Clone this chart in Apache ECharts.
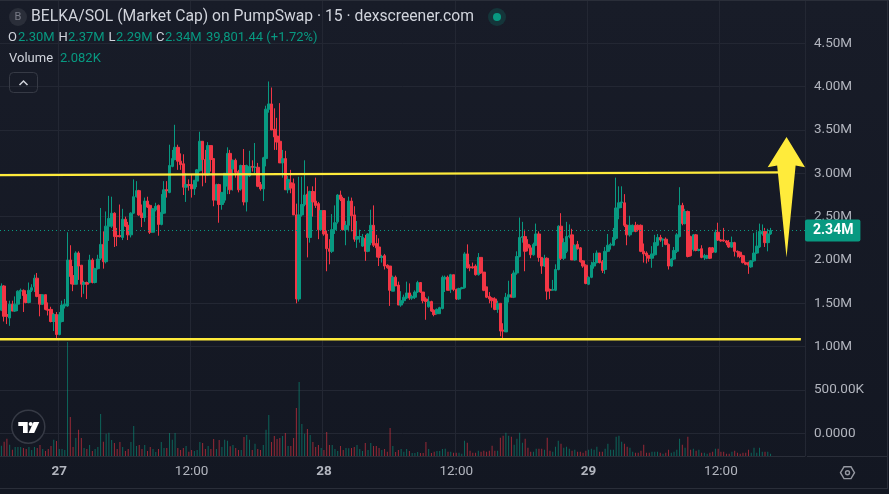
<!DOCTYPE html>
<html>
<head>
<meta charset="utf-8">
<style>html,body{margin:0;padding:0;background:#131722}#c{width:889px;height:494px}</style>
<script src="https://cdn.jsdelivr.net/npm/echarts@6/dist/echarts.min.js"></script>
</head>
<body>
<div id="c"></div>
<script>
const opens=[1.42,1.70,1.37,1.33,1.49,1.41,1.49,1.64,1.65,1.60,
1.51,1.65,1.69,1.79,1.60,1.49,1.60,1.43,1.43,1.29,
1.37,1.14,1.29,1.47,1.47,2.00,1.82,1.72,2.08,1.94,
1.72,1.74,1.74,2.00,1.74,1.90,2.02,2.18,1.98,2.39,
2.39,2.54,2.28,2.28,2.26,2.47,2.40,2.29,2.54,2.73,
2.80,2.54,2.49,2.68,2.63,2.32,2.58,2.63,2.41,2.54,
2.81,2.78,3.08,3.16,3.30,3.14,3.11,2.84,2.87,2.87,
2.82,2.91,3.03,3.37,3.16,2.98,3.32,3.17,2.69,2.87,
2.64,2.69,2.85,3.23,3.05,3.15,3.02,2.82,3.09,2.67,
2.97,3.08,3.07,3.07,2.87,2.82,3.17,3.74,3.80,3.51,
3.43,3.37,3.12,3.17,2.81,2.89,2.88,2.52,1.55,2.52,
2.64,2.76,2.26,2.79,2.68,2.65,2.35,2.57,2.30,2.13,
2.10,2.35,2.44,2.75,2.71,2.35,2.40,2.68,2.52,2.24,
2.27,2.16,2.25,2.10,2.20,2.40,2.19,2.15,2.03,2.05,
1.94,1.93,1.64,1.80,1.71,1.48,1.53,1.56,1.62,1.56,
1.57,1.63,1.74,1.63,1.55,1.46,1.52,1.42,1.38,1.38,
1.44,1.78,1.80,1.66,1.83,1.66,1.55,1.67,1.68,2.07,
1.92,1.92,1.93,1.83,2.03,1.86,1.69,1.58,1.56,1.55,
1.43,1.50,1.19,1.17,1.57,1.60,1.57,1.85,2.04,2.26,
2.27,2.18,2.14,2.06,2.17,2.30,2.03,1.93,2.02,1.66,
1.65,1.65,1.89,2.39,2.02,2.10,2.27,2.29,2.00,2.18,
2.14,1.99,1.94,1.72,1.80,1.93,1.97,2.08,1.98,1.89,
2.10,2.17,2.17,2.25,2.60,2.66,2.66,2.40,2.29,2.33,
2.40,2.40,2.40,2.10,2.08,2.05,2.02,2.06,2.17,2.26,
2.23,2.24,2.18,1.93,2.01,2.10,2.27,2.63,2.42,2.56,
2.27,2.12,2.29,2.11,2.13,2.03,2.02,2.14,2.14,2.09,
2.32,2.23,2.23,2.22,2.20,2.15,2.20,2.10,2.09,2.05,
1.97,1.97,1.92,1.99,2.08,2.15,2.30,2.33,2.20,2.30];
const closes=[1.70,1.35,1.35,1.49,1.41,1.49,1.64,1.65,1.59,1.51,
1.65,1.68,1.79,1.58,1.49,1.60,1.43,1.42,1.29,1.37,
1.14,1.37,1.48,1.49,2.00,1.81,1.72,2.08,1.93,1.72,
1.74,1.72,2.00,1.74,1.90,2.01,2.18,1.98,2.39,2.48,
2.54,2.27,2.27,2.27,2.47,2.39,2.29,2.54,2.73,2.80,
2.52,2.49,2.68,2.61,2.32,2.59,2.62,2.41,2.55,2.81,
2.80,3.09,3.17,3.30,3.14,3.10,2.84,2.87,2.86,2.82,
2.92,3.04,3.37,3.16,2.98,3.32,3.16,2.69,2.87,2.64,
2.78,3.00,3.23,2.81,3.15,3.01,2.81,3.09,2.67,3.09,
3.08,3.07,3.07,2.85,2.82,3.18,3.74,3.80,3.50,3.42,
3.36,3.12,3.17,2.81,2.93,2.83,2.52,1.55,2.52,2.64,
2.75,2.26,2.79,2.67,2.63,2.35,2.57,2.30,2.13,2.10,
2.35,2.43,2.75,2.70,2.35,2.40,2.68,2.51,2.24,2.27,
2.27,2.26,2.10,2.30,2.40,2.17,2.14,2.03,2.04,1.93,
1.91,1.65,1.80,1.70,1.48,1.53,1.57,1.62,1.56,1.58,
1.63,1.74,1.63,1.53,1.52,1.52,1.41,1.37,1.43,1.45,
1.80,1.80,1.65,1.83,1.66,1.55,1.67,1.68,2.07,1.91,
1.91,1.91,1.83,2.03,1.85,1.65,1.57,1.55,1.53,1.43,
1.50,1.18,1.18,1.57,1.60,1.57,1.85,2.04,2.26,2.27,
2.10,2.14,2.06,2.18,2.30,2.03,1.93,2.02,1.64,1.65,
1.66,1.89,2.39,2.02,2.20,2.27,2.28,2.00,2.17,2.13,
1.98,1.93,1.73,1.80,1.94,1.97,2.08,1.97,1.88,2.10,
2.17,2.18,2.26,2.60,2.66,2.67,2.40,2.29,2.40,2.40,
2.33,2.35,2.10,2.07,2.05,2.02,2.07,2.20,2.26,2.23,
2.24,2.18,1.93,2.01,2.11,2.29,2.63,2.42,2.56,2.04,
2.05,2.29,2.11,2.12,2.03,2.05,2.05,2.02,2.09,2.32,
2.23,2.22,2.22,2.20,2.15,2.20,2.10,2.09,2.04,1.97,
1.95,1.94,1.99,2.08,2.16,2.33,2.33,2.20,2.30,2.34];
const highs=[1.73,1.71,1.53,1.53,1.53,1.58,1.65,1.67,1.66,1.65,
1.74,1.72,1.83,1.85,1.60,1.60,1.60,1.51,1.46,1.39,
1.40,1.40,1.53,1.55,2.32,2.17,1.93,2.10,2.10,1.94,
1.76,1.75,2.06,2.02,1.91,2.06,2.60,2.33,2.56,2.74,
2.73,2.55,2.37,2.64,2.59,2.50,2.44,2.55,2.93,2.91,
2.81,2.64,2.72,2.73,2.64,2.60,2.66,2.64,2.76,2.91,
2.91,3.33,3.27,3.56,3.33,3.23,3.22,3.00,2.93,2.98,
2.92,3.05,3.48,3.37,3.27,3.36,3.32,3.17,2.88,2.88,
2.78,3.00,3.30,3.27,3.16,3.17,3.04,3.10,3.28,3.10,
3.26,3.15,3.35,3.12,2.90,3.19,3.78,4.06,3.99,3.75,
3.64,3.81,3.27,3.26,2.97,3.04,2.94,2.65,2.96,2.96,
3.15,2.85,2.80,2.85,2.95,2.67,2.57,2.57,2.34,2.24,
2.53,2.63,2.76,2.80,2.73,2.45,2.73,2.72,2.62,2.45,
2.35,2.30,2.29,2.31,2.58,2.63,2.29,2.25,2.06,2.07,
1.95,1.93,1.82,1.82,1.75,1.64,1.60,1.75,1.73,1.60,
1.65,1.76,1.74,1.63,1.57,1.58,1.53,1.43,1.44,1.46,
1.82,1.82,1.82,1.84,1.83,1.67,1.68,1.69,2.09,2.18,
1.95,1.97,1.95,2.08,2.03,1.86,1.69,1.63,1.57,1.57,
1.53,1.50,1.27,1.62,1.76,1.84,1.88,2.10,2.49,2.44,
2.35,2.24,2.17,2.20,2.42,2.33,2.03,2.06,2.03,1.67,
1.77,1.95,2.40,2.54,2.25,2.44,2.41,2.36,2.18,2.22,
2.15,2.00,1.95,1.81,1.98,2.08,2.11,2.08,2.00,2.15,
2.30,2.20,2.37,2.95,2.85,2.85,2.76,2.41,2.51,2.41,
2.44,2.41,2.41,2.19,2.10,2.06,2.16,2.29,2.30,2.29,
2.25,2.26,2.19,2.02,2.15,2.31,2.84,2.66,2.59,2.57,
2.28,2.30,2.30,2.13,2.17,2.07,2.06,2.15,2.15,2.35,
2.43,2.24,2.37,2.23,2.23,2.27,2.21,2.11,2.10,2.06,
1.98,1.98,2.00,2.31,2.33,2.42,2.41,2.37,2.36,2.37];
const lows=[1.41,1.29,1.26,1.24,1.41,1.40,1.41,1.55,1.40,1.50,
1.50,1.63,1.63,1.57,1.35,1.48,1.42,1.36,1.28,1.18,
1.10,1.13,1.28,1.44,1.46,1.72,1.64,1.72,1.77,1.57,
1.61,1.55,1.73,1.73,1.73,1.89,2.00,1.90,1.96,2.22,
2.37,2.15,2.16,2.26,2.23,2.38,2.23,2.26,2.53,2.72,
2.51,2.38,2.44,2.60,2.30,2.32,2.56,2.28,2.40,2.53,
2.72,2.77,3.07,3.15,3.04,3.04,2.75,2.67,2.80,2.72,
2.75,2.84,3.02,2.85,2.89,2.97,3.02,2.62,2.69,2.43,
2.58,2.66,2.76,2.76,2.80,2.95,2.78,2.80,2.63,2.56,
2.96,3.02,3.00,2.84,2.80,2.68,3.08,3.70,3.50,3.27,
3.27,3.12,2.95,2.81,2.77,2.77,2.52,1.50,1.52,2.50,
2.62,2.03,2.20,2.50,2.60,2.24,2.35,2.28,1.87,1.95,
2.08,2.30,2.42,2.68,2.34,2.17,2.33,2.33,2.21,2.14,
2.20,2.15,1.99,2.09,2.17,2.15,2.03,1.93,1.97,1.89,
1.90,1.47,1.64,1.70,1.48,1.46,1.50,1.55,1.54,1.54,
1.55,1.62,1.62,1.50,1.31,1.45,1.40,1.35,1.37,1.38,
1.43,1.63,1.65,1.62,1.64,1.54,1.54,1.66,1.67,1.90,
1.87,1.90,1.82,1.82,1.84,1.64,1.56,1.50,1.45,1.42,
1.39,1.12,1.08,1.17,1.51,1.57,1.56,1.83,2.03,2.20,
1.87,2.10,2.02,2.05,2.16,1.98,1.84,1.92,1.54,1.55,
1.65,1.64,1.88,2.00,2.00,2.08,2.25,2.00,1.99,2.12,
1.97,1.91,1.72,1.71,1.79,1.90,1.96,1.96,1.85,1.84,
2.09,2.12,2.16,2.23,2.47,2.60,2.38,2.17,2.27,2.32,
2.32,2.33,2.09,1.97,1.96,1.98,1.91,2.05,2.16,2.21,
2.15,2.17,1.89,1.92,2.00,2.08,2.26,2.40,2.41,2.03,
2.04,2.10,2.10,2.10,2.02,2.00,2.01,2.01,2.08,2.08,
2.22,2.21,2.21,2.17,2.14,2.14,2.04,2.03,2.02,1.96,
1.94,1.84,1.91,1.98,2.07,2.14,2.28,2.15,2.10,2.29];
const volumesK=[9.3,12.9,15.6,10.2,5.7,8.1,8.1,8.1,7.2,6.3,
8.1,5.4,8.1,7.2,9.9,6.3,4.5,6.3,9,14.7,
13.5,6.3,6.3,5.4,102.6,35.1,8.1,16.2,23.7,16.2,
7.2,6.3,9.9,4.5,6.3,8.1,37.8,12.9,20.1,21,
14.4,11.7,6.3,12.6,8.1,4.5,6.3,12.6,27,9,
9.9,6.3,9.9,4.5,8.1,6.3,3.6,6.3,12.6,7.2,
7.2,20.7,14.7,20.7,7.2,5.4,7.2,9,3.9,5.4,
4.5,5.4,12.6,11.7,6.3,9,6.3,15.3,6.3,14.4,
8.1,14.7,13.8,8.7,9.9,7.2,5.4,5.4,17.1,18.9,
14.7,5.4,11.1,6.3,5.4,9.9,23.7,36.9,12.6,18,
15.3,16.2,18,20.7,9,9,16.2,43.2,66.6,28.8,
20.1,24.3,18.9,12.6,8.1,9.9,7.2,5.4,21.6,9.9,
9.9,6.3,4.5,9,5.4,7.2,6.9,7.2,8.1,9.9,
6.3,4.5,11.7,5.4,11.7,9,9,7.2,5.4,6.3,
3.9,25.2,9,3.6,5.4,6.3,3.9,6.3,4.5,2.7,
2.7,3.6,2.7,2.7,12.6,6.3,2.7,3.9,4.5,4.5,
6.3,6.6,3.9,3.9,3,3,3,2.1,13.8,12,
4.8,3,3,4.8,3.9,4.8,3.9,4.8,9.3,4.8,
4.8,16.5,18.3,21,18.3,17.4,10.2,15.6,21,12,
15.6,7.5,3.9,3.9,6.6,6.6,6.6,5.7,16.5,4.8,
3.9,8.4,13.8,11.1,7.5,8.4,6.6,4.8,5.7,3.9,
3.9,3,4.8,5.7,6.6,5.7,8.4,3.9,3.9,6.6,
11.1,5.7,5.7,17.4,18.3,12.9,11.1,8.4,7.5,3.9,
3,3,4.8,10.2,3,3,3.9,3.9,3.9,3,
2.1,3,5.7,3,3.9,5.7,15.6,10.2,7.5,17.4,
5.7,6.6,4.8,5.7,3,3,2.1,3,3.9,6.6,
6.6,3.9,3.9,2.1,2.1,3.9,4.8,3,2.1,3,
3,5.7,3,7.5,3,7.5,3.9,3.9,3.9,2.082];

const tickIndexes=[21,69,117,165,213,261];
const tickLabels=['27','12:00','28','12:00','29','12:00'];
const upperLevelX=[-0.5,282.5], upperLevelY=[2.98,3.012];
const lowerLevelX=[-0.5,290], lowerLevelY=[1.085,1.085];
const arrowX=[284.8,291.5,288.1,284.8,281.4,277.95];
const arrowY=[3.42,3.07,3.09,2.03,3.09,3.07];
const lastPrice=2.34;

const UP='#089981',DOWN='#f23645',TXT='#b2b5be',GRID='#232733',LINE='#2a2e39',YEL='#ffeb3b';
const FONT='Roboto, sans-serif';
const SLOTS=292;
const categories=Array.from({length:SLOTS},(_,i)=>{const k=tickIndexes.indexOf(i);return k>=0?tickLabels[k]:'';});
const isTick=i=>tickIndexes.includes(i);
const candle=closes.map((c,i)=>[opens[i],c,lows[i],highs[i]]);
const vol=volumesK.map((v,i)=>({value:v,itemStyle:{color:closes[i]>=opens[i]?'rgba(8,153,129,.6)':'rgba(242,54,69,.6)'}}));
const fmtPrice=v=>v===0?'0.0000':v<1?(v*1000).toFixed(2)+'K':v.toFixed(2)+'M';

function txt(x,y,s,fill,size,extra){return {type:'text',x,y,silent:true,z:50,style:Object.assign({text:s,fill,font:(size||13)+'px '+FONT,textVerticalAlign:'middle'},extra||{})};}
const G0='#089981';
const graphics=[
 {type:'rect',silent:true,z:1,shape:{x:0,y:0,width:889,height:1},style:{fill:LINE}},
 {type:'rect',silent:true,z:1,shape:{x:0,y:488,width:887,height:1},style:{fill:LINE}},
 {type:'rect',silent:true,z:1,shape:{x:887,y:0,width:1,height:489},style:{fill:LINE}},
 {type:'rect',silent:true,z:1,shape:{x:807,y:456,width:80,height:1},style:{fill:LINE}},
 {type:'circle',silent:true,z:50,shape:{cx:18,cy:17,r:9},style:{fill:'#2a2e39'}},
 txt(14.5,17.5,'B','#787b86',11),
 txt(31,17,'BELKA/SOL (Market Cap) on PumpSwap · 15 · dexscreener.com','#d1d4dc',15.7),
 {type:'circle',silent:true,z:50,shape:{cx:497,cy:17,r:9},style:{fill:'rgba(8,153,129,.2)'}},
 {type:'circle',silent:true,z:50,shape:{cx:497,cy:17,r:4},style:{fill:G0}},
 txt(8,37.5,'O','#d1d4dc'),txt(18,37.5,'2.30M',G0),
 txt(58.5,37.5,'H','#d1d4dc'),txt(68,37.5,'2.37M',G0),
 txt(108.5,37.5,'L','#d1d4dc'),txt(116,37.5,'2.29M',G0),
 txt(156,37.5,'C','#d1d4dc'),txt(165,37.5,'2.34M',G0),
 txt(206,37.5,'39,801.44 (+1.72%)',G0),
 txt(9,58.5,'Volume','#d1d4dc'),txt(60,58.5,'2.082K',G0),
 {type:'rect',silent:true,z:50,shape:{x:9.5,y:72.5,width:28,height:20,r:4},style:{fill:'none',stroke:'#363a45',lineWidth:1}},
 {type:'polyline',silent:true,z:50,shape:{points:[[19.5,85],[23.5,81],[27.5,85]]},style:{fill:'none',stroke:'#d1d4dc',lineWidth:1.5}},
 {type:'circle',silent:true,z:50,shape:{cx:28.3,cy:426.7,r:16.5},style:{fill:'#131722',stroke:'#363a45',lineWidth:1.5}},
 {type:'polygon',silent:true,z:51,shape:{points:[[18.3,422],[27.7,422],[27.7,433],[23,433],[23,426],[18.3,426]]},style:{fill:'#fff'}},
 {type:'circle',silent:true,z:51,shape:{cx:30.7,cy:424,r:2},style:{fill:'#fff'}},
 {type:'polygon',silent:true,z:51,shape:{points:[[33.6,422],[39.3,422],[34.2,433],[28.6,433]]},style:{fill:'#fff'}},
 {type:'polygon',silent:true,z:50,shape:{points:[[840.5,472.7],[844,466.8],[851,466.8],[854.5,472.7],[851,478.6],[844,478.6]]},style:{fill:'none',stroke:'#9598a1',lineWidth:1.4}},
 {type:'circle',silent:true,z:50,shape:{cx:847.5,cy:472.7,r:2},style:{fill:'none',stroke:'#9598a1',lineWidth:1.4}}
];

const option={
 animation:false,
 backgroundColor:{type:'linear',x:0,y:0,x2:0,y2:1,colorStops:[{offset:0,color:'#181c28'},{offset:1,color:'#131722'}]},
 textStyle:{fontFamily:FONT},
 grid:[
  {left:0,top:-2.4,width:805,height:435.7},
  {left:0,top:0,width:805,height:456}
 ],
 xAxis:[
  {type:'category',gridIndex:0,data:categories,show:false},
  {type:'category',gridIndex:1,data:categories,
   axisLine:{lineStyle:{color:LINE}},
   axisTick:{show:false,alignWithLabel:true,interval:(i)=>isTick(i)},
   axisLabel:{interval:(i)=>isTick(i),margin:9,color:TXT,fontFamily:FONT,fontSize:13.5,
     formatter:v=>/^\d+$/.test(v)?'{d|'+v+'}':v,
     rich:{d:{fontWeight:'bold',fontSize:13.5,color:TXT,fontFamily:FONT}}},
   splitLine:{show:true,interval:(i)=>isTick(i),lineStyle:{color:GRID,width:1}}},
  {type:'value',gridIndex:0,min:-0.5,max:291.5,show:false}
 ],
 yAxis:[
  {type:'value',gridIndex:0,position:'right',min:0,max:5,interval:0.5,
   axisLine:{show:false},axisTick:{show:false},
   axisLabel:{showMaxLabel:false,margin:9,color:TXT,fontFamily:FONT,fontSize:13.5,formatter:fmtPrice},
   splitLine:{lineStyle:{color:GRID,width:1}}},
  {type:'value',gridIndex:1,min:0,max:410.4,show:false,splitLine:{show:false}}
 ],
 series:[
  {type:'bar',name:'Volume',xAxisIndex:1,yAxisIndex:1,data:vol,barWidth:1,z:2,silent:true},
  {type:'candlestick',name:'BELKA/SOL',xAxisIndex:0,yAxisIndex:0,data:candle,barWidth:3,z:3,silent:true,
   itemStyle:{color:UP,color0:DOWN,borderColor:UP,borderColor0:DOWN,borderWidth:1},
   markLine:{silent:true,symbol:'none',animation:false,
    lineStyle:{color:UP,type:[1,3],width:1},
    label:{show:true,position:'end',distance:0,formatter:()=>fmtPrice(lastPrice),color:'#fff',fontWeight:'bold',fontSize:14,fontFamily:FONT,
      backgroundColor:UP,padding:[4,7,4,8],borderRadius:2},
    data:[{yAxis:lastPrice}]}},
  {type:'line',name:'Upper level',xAxisIndex:2,yAxisIndex:0,data:upperLevelX.map((x,i)=>[x,upperLevelY[i]]),symbol:'none',silent:true,clip:false,z:5,
   lineStyle:{color:YEL,width:2.2}},
  {type:'line',name:'Lower level',xAxisIndex:2,yAxisIndex:0,data:lowerLevelX.map((x,i)=>[x,lowerLevelY[i]]),symbol:'none',silent:true,clip:false,z:5,
   lineStyle:{color:YEL,width:2.5}},
  {type:'custom',name:'Arrow',xAxisIndex:2,yAxisIndex:0,data:[[arrowX[0],arrowY[0]]],silent:true,clip:false,z:6,
   renderItem:(p,api)=>({type:'polygon',shape:{points:arrowX.map((x,i)=>api.coord([x,arrowY[i]]))},style:{fill:YEL}})}
 ],
 graphic:graphics
};
echarts.init(document.getElementById('c'),null,{renderer:'canvas'}).setOption(option);
</script>
</body>
</html>
